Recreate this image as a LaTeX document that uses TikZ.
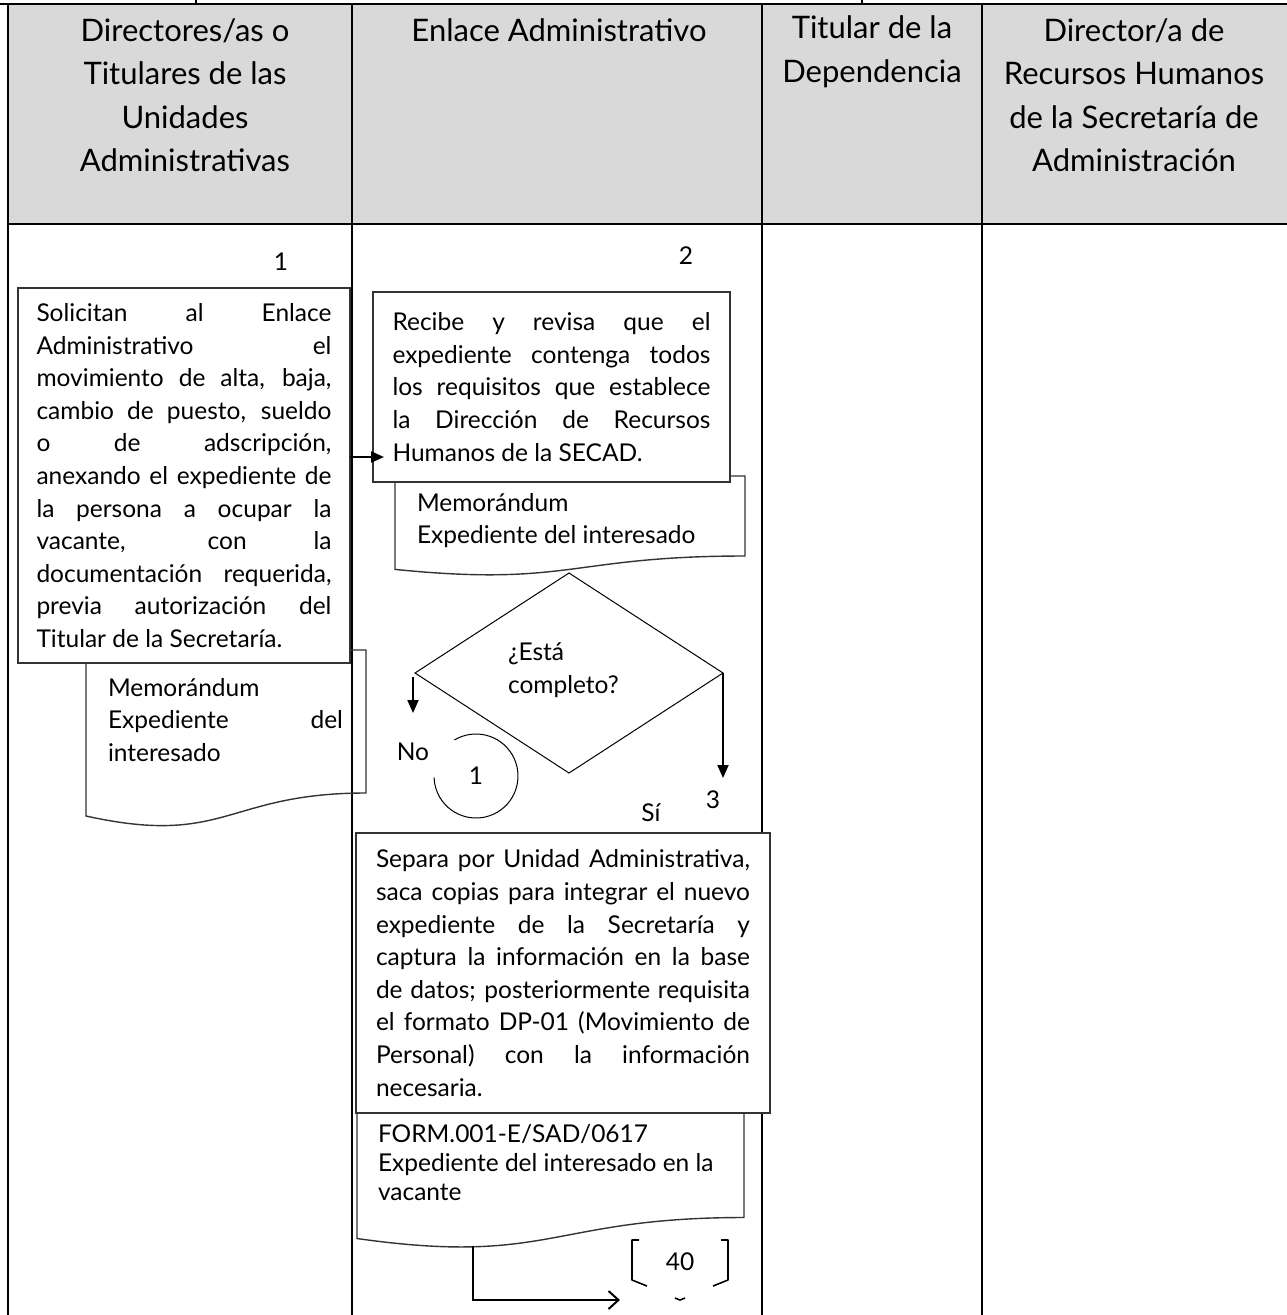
\documentclass[tikz,border=0pt]{standalone}
\usepackage{fontspec}
\setmainfont{Lato}
\usetikzlibrary{arrows.meta,shapes.geometric,calc}
\definecolor{hdrgray}{HTML}{D9D9D9}
\begin{document}
\begin{tikzpicture}[x=1pt,y=-1pt,
  every node/.style={inner sep=0pt, outer sep=0pt},
  body/.style={font=\fontsize{24.5}{32.6}\selectfont},
  headtxt/.style={font=\fontsize{31}{43.5}\selectfont, align=center},
  procbox/.style={draw=black!80, line width=1.4pt, fill=white, body, align=justify,
    execute at begin node={\hyphenpenalty=10000\exhyphenpenalty=10000\tolerance=10000\emergencystretch=20pt}},
  gridline/.style={line width=2.5pt, black},
  flow/.style={line width=2pt, -{Triangle[length=13pt,width=11pt]}},
  docline/.style={draw=black!80, line width=1.4pt},
]
\useasboundingbox (0,0) rectangle (1287,1315);

% header band and table rules
\fill[hdrgray] (8,4) rectangle (1287,224);
\draw[gridline] (0,4) -- (1287,4);
\draw[gridline] (8,224) -- (1287,224);
\draw[gridline] (8,4) -- (8,1315);
\foreach \cx in {352,762,982} \draw[gridline] (\cx,4) -- (\cx,1315);
\draw[gridline] (196,0) -- (196,4);
\draw[gridline] (862,0) -- (862,4);

% column headings
\node[headtxt] (h1) at (185,95) {Directores/as o\\Titulares de las\\Unidades\\Administrativas};
\node[headtxt] (h2) at (559,30) {Enlace Administrativo};
\node[headtxt] (h3) at (872,51.5) {Titular de la\\Dependencia};
\node[headtxt] (h4) at (1134,95) {Director/a de\\Recursos Humanos\\de la Secretaría de\\Administración};

% step numbers
\node[body] (n1) at (281,262) {1};
\node[body] (n2) at (686,256) {2};

% document outlines (drawn under the process boxes)
\draw[docline] (366,650) -- (366,793) .. controls (226,793) and (226,847) .. (86,816) -- (86,650) -- cycle;
\draw[docline] (745,476) -- (745,556) .. controls (570,556) and (570,587) .. (395,569.4) -- (395,476) -- cycle;
\draw[docline] (744,1090) -- (744,1217.5) .. controls (550.5,1217.5) and (550.5,1266) .. (357,1238.5) -- (357,1090) -- cycle;

% process boxes
\node[procbox, minimum width=332, minimum height=375, text width=295] (b1) at (184,475.5)
 {Solicitan al Enlace\linebreak Administrativo el\linebreak movimiento de alta, baja,\linebreak
  cambio de puesto, sueldo\linebreak o de adscripción,\linebreak anexando el expediente de\linebreak
  la persona a ocupar la\linebreak vacante, con la\linebreak documentación requerida,\linebreak
  previa autorización del\linebreak Titular de la Secretaría.};
\node[procbox, minimum width=357, minimum height=190, text width=318] (b2) at (551.5,387)
 {Recibe y revisa que el\linebreak expediente contenga todos\linebreak los requisitos que establece\linebreak
  la Dirección de Recursos\linebreak Humanos de la SECAD.};
\node[procbox, minimum width=414, minimum height=280, text width=374] (b3) at (563,973)
 {Separa por Unidad Administrativa,\linebreak saca copias para integrar el nuevo\linebreak
  expediente de la Secretaría y\linebreak captura la información en la base\linebreak
  de datos; posteriormente requisita\linebreak el formato DP-01 (Movimiento de\linebreak
  Personal) con la información\linebreak necesaria.};

% document contents
\node[body, anchor=north west, text width=235, align=justify,
  execute at begin node={\hyphenpenalty=10000\tolerance=10000}] (d1t) at (108,678)
 {Memorándum\par Expediente del\linebreak interesado};
\node[body, anchor=north west, align=left] (d2t) at (417,493)
 {Memorándum\\Expediente del interesado};
\node[font=\fontsize{24.5}{29}\selectfont, anchor=north west, align=left] (d3t) at (378,1124)
 {FORM.001-E/SAD/0617\\Expediente del interesado en la\\vacante};

% decision
\node[draw, diamond, line width=1pt, minimum width=308, minimum height=200] (dia) at (569,673) {};
\node[body, align=left, anchor=west] (diat) at (508,670) {¿Está\\completo?};

% connectors
\coordinate (ar1) at (0,457);
\draw[flow] (b1.east |- ar1) -- ($(b2.west |- ar1)+(11,0)$);
\draw[flow] ($(dia.west)+(-2,4)$) -- ($(dia.west)+(-2,40)$);
\draw[flow] (dia.east) -- ($(dia.east)+(0,105)$);

\node[body] (lno) at (413,752) {No};
\node[body] (l3) at (713,800) {3};
\node[body] (lsi) at (651,813) {Sí};

% on-page connector back to step 1
\node[body] (c1) at (476,776) {1};
\draw[line width=1pt] (c1.center) ++(-121:42) arc[start angle=-121, end angle=178, radius=42];

% off-page connector to step 40 (only its corner strokes show)
\node[body] (off40) at (680,1262) {40};
\draw[line width=1.6pt, line join=round]
  ($(off40)+(-41,-22)$) -- ($(off40)+(-48,-22)$) -- ($(off40)+(-48,18)$) -- ($(off40)+(-33,24)$)
  ($(off40)+(41,-22)$) -- ($(off40)+(48,-22)$) -- ($(off40)+(48,18)$) -- ($(off40)+(33,24)$)
  ($(off40)+(-5,36)$) -- ($(off40)+(0,38)$) -- ($(off40)+(5,36)$);
\coordinate (d3b) at (473,1246);
\draw[line width=2pt, -{Straight Barb[length=10pt,width=18pt]}] (d3b) |- ($(off40)+(-60,38)$);
\end{tikzpicture}
\end{document}
